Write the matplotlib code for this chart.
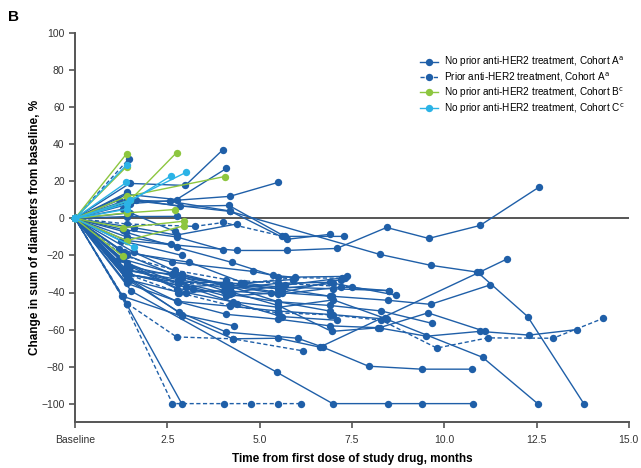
import matplotlib
matplotlib.use('Agg')
import matplotlib.pyplot as plt

# colours for the cohorts
BLUE = '#1f5fa8'
GREEN = '#8dc63f'
LIGHT = '#2bb3e6'

# No prior anti-HER2 treatment, Cohort A (solid dark blue)
cohortA_times = [
    [0, 1.4, 4.2, 8.25, 9.63, 10.9, 12.26, 13.78],
    [0, 1.4, 4.38, 5.73, 7.09, 8.44, 9.58, 10.97, 12.56],
    [0, 1.5, 4.19, 5.49],
    [0, 1.48, 2.99, 4.0],
    [0, 1.4, 2.75, 4.1],
    [0, 1.66, 2.84, 4.17, 5.68, 7.28],
    [0, 1.2, 2.58, 4.2, 5.73, 6.9],
    [0, 1.4, 2.75],
    [0, 1.42],
    [0, 1.3],
    [0, 1.5, 2.7],
    [0, 1.39, 2.75, 4.24, 5.51, 7.36],
    [0, 1.2, 2.64, 4.81, 5.35, 5.95],
    [0, 1.34, 3.1, 4.59, 5.5, 7.0, 8.5],
    [0, 1.39, 2.83, 4.1, 5.5, 7.0, 8.7],
    [0, 1.42, 2.64, 4.13, 5.5, 6.95, 8.47, 9.63, 11.23],
    [0, 1.29, 2.89, 4.27, 5.51, 6.63, 10.96, 11.69],
    [0, 1.42, 2.83, 4.1, 6.03, 6.71, 7.95, 9.39, 10.75],
    [0, 1.53, 5.46, 6.98, 8.47, 9.39, 10.77],
    [0, 1.4, 2.89],
    [0, 1.4, 2.8, 4.1, 5.5, 6.9, 8.2, 9.52, 10.96, 12.3, 13.6],
    [0, 1.4, 2.75, 4.2, 5.5, 7.0, 8.44, 11.04, 12.53],
    [0, 1.42, 2.83, 4.1, 5.5, 6.95, 8.25, 9.56, 11.1],
    [0, 1.3, 2.65, 4.03, 5.5, 7.2, 8.5],
    [0, 1.35, 2.83, 4.2, 5.5, 6.9, 8.3, 9.66],
    [0, 1.2, 3.0, 4.27, 5.51, 7.0, 8.4],
    [0, 1.6, 2.89, 4.1, 5.5, 6.9],
    [0, 1.4, 2.75, 4.25, 5.7, 7.3],
    [0, 1.45, 3.2, 4.4, 5.6, 7.1],
    [0, 1.3, 2.7, 4.0, 5.3],
    [0, 1.5, 2.9, 4.3],
    [0, 1.4, 2.6],
    [0, 1.3, 2.75, 4.0],
    [0, 1.42, 3.0, 4.5, 5.9],
    [0, 1.5, 2.9, 4.2, 5.6, 6.9],
    [0, 1.4, 2.8, 4.2, 5.5, 6.9],
    [0, 1.4, 2.8, 4.1, 5.6, 7.2],
    [0, 1.6, 2.75, 4.38],
    [0, 1.25, 2.9],
]
cohortA_values = [
    [0, 10, 3.8, -19.4, -25.3, -29, -53, -100],
    [0, -12, -17.3, -17.3, -16.2, -4.9, -10.8, -3.8, 16.8],
    [0, 8, 11.9, 19.4],
    [0, 18.9, 17.8, 37],
    [0, 13, 10.2, 27],
    [0, 10.2, 6.5, 7, -9.7, -9.7],
    [0, 10, 9.2, 4, -11.3, -8.6],
    [0, 1, 1.1],
    [0, 14],
    [0, 5],
    [0, 3, -7],
    [0, -7.5, -15.6, -23.7, -31.8, -31.3],
    [0, -16.7, -23.7, -28.6, -30.7, -31.8],
    [0, -18.3, -23.7, -35, -37, -38, -39],
    [0, -27.5, -34.5, -34.5, -38, -35, -41.5],
    [0, -20, -30, -35.6, -40, -42, -44.2, -46.4, -36],
    [0, -42, -52.8, -65, -64.7, -69.5, -29, -22],
    [0, -33, -50.7, -61.4, -64.7, -69.5, -79.8, -81.4, -81.4],
    [0, -39.3, -83, -100, -100, -100, -100],
    [0, -46.4, -100],
    [0, -35, -45, -51.8, -54.4, -58, -59, -63.6, -61, -63, -60],
    [0, -32, -44.7, -47.4, -50, -52, -54.4, -75, -100],
    [0, -32.9, -40, -39, -47, -61, -59, -51, -61],
    [0, -28, -30, -39, -41, -37, -39],
    [0, -30, -34.5, -41, -45, -47, -50, -56.6],
    [0, -22, -40, -45, -48, -44, -54],
    [0, -18.3, -30, -36, -45, -50],
    [0, -25, -38, -40, -36, -32],
    [0, -30, -38, -46, -53, -55],
    [0, -22, -30, -36, -40],
    [0, -33, -52, -58],
    [0, -10, -14],
    [0, -6, -10, -17],
    [0, -30, -37, -35, -33],
    [0, -26, -32, -36, -38, -42],
    [0, -28, -33, -38, -35, -34.5],
    [0, -24, -35, -42, -40, -33],
    [0, -5, -9, -3],
    [0, -12, -20],
]

# Prior anti-HER2 treatment, Cohort A (dashed dark blue)
priorA_times = [
    [0, 1.45],
    [0, 1.4, 3.24, 4.02, 5.6],
    [0, 1.42, 2.75, 4.27, 6.17],
    [0, 1.26, 2.64, 4.03, 4.78, 5.51, 6.11],
    [0, 1.4, 2.8, 4.2, 5.5, 6.9, 8.3, 9.8, 11.18, 12.95, 14.3],
    [0, 1.4, 2.8, 4.2, 5.95, 7.22],
    [0, 1.3, 2.7, 4.1, 5.5, 7.5],
]
priorA_values = [
    [0, 32],
    [0, -3, -4.3, -2.2, -9.5],
    [0, -46, -64, -65, -71.5],
    [0, -42, -100, -100, -100, -100, -100],
    [0, -30, -40, -47, -51, -52, -55, -70, -64.5, -64.7, -54],
    [0, -30, -35, -36, -32, -32.3],
    [0, -20, -28, -33, -35, -37],
]

# No prior anti-HER2 treatment, Cohort B (green)
cohortB_times = [
    [0, 1.4],
    [0, 1.4],
    [0, 1.5, 2.75],
    [0, 1.4, 4.05],
    [0, 1.3, 2.95],
    [0, 1.4, 2.95],
    [0, 1.3],
    [0, 1.4, 2.7],
]
cohortB_values = [
    [0, 35],
    [0, 28],
    [0, 10, 35.5],
    [0, 11.9, 22.6],
    [0, -5, -1.5],
    [0, -12, -4],
    [0, -20.5],
    [0, 3, 4.8],
]

# No prior anti-HER2 treatment, Cohort C (light blue)
cohortC_times = [
    [0, 1.4],
    [0, 1.39],
    [0, 1.4, 2.6],
    [0, 1.5, 3.0],
    [0, 1.6],
    [0, 1.4],
]
cohortC_values = [
    [0, 29],
    [0, 19.4],
    [0, 8, 23],
    [0, 10, 24.8],
    [0, -15.6],
    [0, 5],
]

legend_labels = [
    r'No prior anti-HER2 treatment, Cohort A$^{\mathrm{a}}$',
    r'Prior anti-HER2 treatment, Cohort A$^{\mathrm{a}}$',
    r'No prior anti-HER2 treatment, Cohort B$^{\mathrm{c}}$',
    r'No prior anti-HER2 treatment, Cohort C$^{\mathrm{c}}$',
]
xtick_pos = [0, 2.5, 5.0, 7.5, 10.0, 12.5, 15.0]
xtick_labels = ['Baseline', '2.5', '5.0', '7.5', '10.0', '12.5', '15.0']
ytick_pos = [-100, -80, -60, -40, -20, 0, 20, 40, 60, 80, 100]

plt.rcParams['font.family'] = ['Liberation Sans', 'DejaVu Sans']

fig = plt.figure(figsize=(6.41, 4.68), dpi=100)
ax = fig.add_axes([0.117, 0.098, 0.864, 0.831])

# zero reference line
ax.axhline(0, color='#555555', lw=1.4, zorder=1)

def draw(times, values, color, style):
    handle = None
    for t, v in zip(times, values):
        h, = ax.plot(t, v, color=color, ls=style, lw=1.0, marker='o',
                     markersize=5.3, markeredgewidth=0, clip_on=False, zorder=3)
        handle = h
    return handle

hA = draw(cohortA_times, cohortA_values, BLUE, '-')
hP = draw(priorA_times, priorA_values, BLUE, (0, (3, 1.8)))
hB = draw(cohortB_times, cohortB_values, GREEN, '-')
hC = draw(cohortC_times, cohortC_values, LIGHT, '-')

ax.set_xlim(0, 15)
ax.set_ylim(-110, 100)
ax.set_xticks(xtick_pos)
ax.set_xticklabels(xtick_labels)
ax.set_yticks(ytick_pos)

for side in ['top', 'right']:
    ax.spines[side].set_visible(False)
for side in ['left', 'bottom']:
    ax.spines[side].set_color('#555555')
    ax.spines[side].set_linewidth(1.4)
ax.tick_params(axis='both', direction='out', length=4, width=1.2,
               color='#555555', labelsize=7.5, labelcolor='#333333')
ax.tick_params(axis='x', pad=5)

ax.set_xlabel('Time from first dose of study drug, months', fontsize=8.5,
              fontweight='bold', labelpad=6)
ax.set_ylabel('Change in sum of diameters from baseline, %', fontsize=8.5,
              fontweight='bold', labelpad=0)

fig.text(0.012, 0.955, 'B', fontsize=11, fontweight='bold')

leg = ax.legend([hA, hP, hB, hC], legend_labels, loc='upper right',
                bbox_to_anchor=(1.0, 0.955), frameon=False, fontsize=7.2,
                handlelength=1.8, handletextpad=0.6, labelspacing=0.15,
                borderaxespad=0)

fig.savefig('out.png', dpi=100)
